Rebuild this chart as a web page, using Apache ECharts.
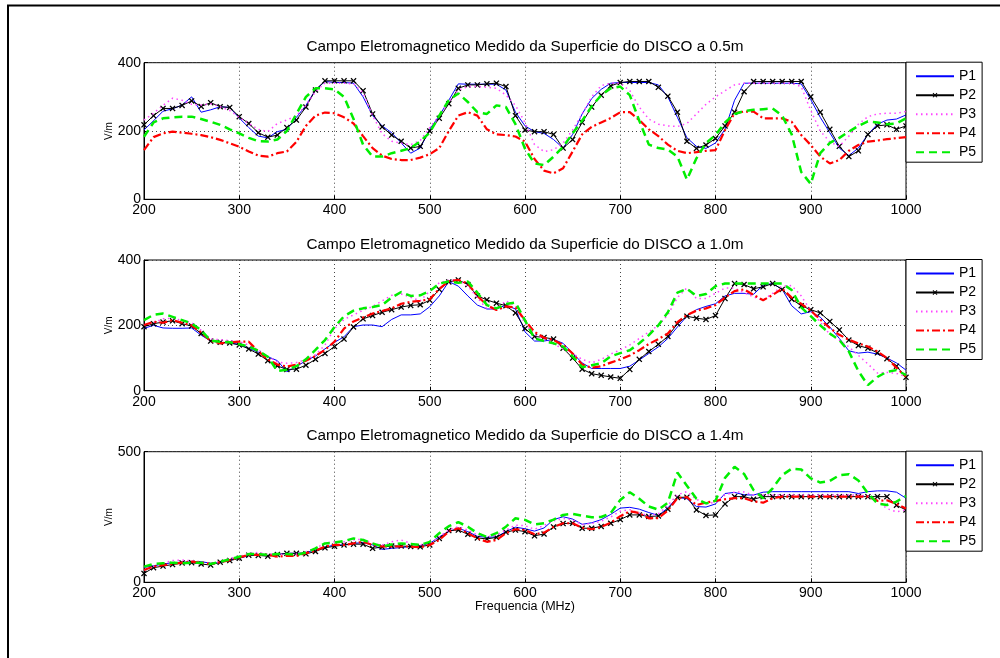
<!DOCTYPE html>
<html>
<head>
<meta charset="utf-8">
<script src="https://cdn.jsdelivr.net/npm/echarts@6/dist/echarts.min.js"></script>
<style>
  html, body { margin: 0; padding: 0; background: #fff; }
  #chart { width: 1000px; height: 658px; }
</style>
</head>
<body>
<div id="chart"></div>
<script>
// frequencias medidas, 200..1000 MHz de 10 em 10
const freq = []
for (let f = 200; f <= 1000; f += 10) freq.push(f)

const names = ['P1', 'P2', 'P3', 'P4', 'P5']
const titles = [
  'Campo Eletromagnetico Medido da Superficie do DISCO a 0.5m',
  'Campo Eletromagnetico Medido da Superficie do DISCO a 1.0m',
  'Campo Eletromagnetico Medido da Superficie do DISCO a 1.4m'
]
const yMax = [400, 400, 500]
const yStep = [200, 200, 500]

// 0.5m
const p1_05 = [203,230,258,265,276,300,255,262,271,269, 238,210,185,180,198,205,240,275,320,345,
  342,342,340,300,245,215,195,165,135,150, 205,245,290,338,337,337,337,337,320,255,
  215,198,193,175,150,190,250,295,322,340, 342,342,342,342,335,300,240,180,155,149,
  165,205,290,340,340,340,340,340,340,338, 292,240,195,150,128,150,190,220,232,235, 247]
const p2_05 = [218,245,266,266,275,288,272,283,271,269, 242,222,195,182,188,210,232,270,320,347,
  347,347,347,318,250,212,188,170,150,155, 200,237,280,325,335,335,338,340,330,245,
  203,198,198,190,150,175,225,270,305,332, 342,345,345,345,328,302,255,170,149,159,
  178,215,255,315,345,345,345,345,345,345, 300,255,205,155,125,142,190,215,218,205, 215]
const p3_05 = [232,252,275,296,290,278,276,280,271,260, 240,222,205,198,222,232,245,275,315,340,
  340,340,338,312,245,192,170,164,160,172, 210,245,285,320,330,330,328,325,305,275,
  225,160,140,145,165,203,250,300,333,340, 340,318,270,235,220,215,213,222,250,278,
  300,318,335,340,340,340,340,340,340,330, 260,200,168,155,185,220,242,250,252,252, 257]
const p4_05 = [144,182,193,198,195,192,188,182,174,164, 154,140,128,125,135,140,168,215,245,254,
  252,240,222,185,150,128,118,115,115,122, 132,150,200,245,255,245,205,190,188,184,
  169,118,84,76,91,140,190,212,225,238, 255,255,232,205,185,160,142,135,138,142,
  144,203,252,257,257,237,237,237,227,188, 159,125,105,115,142,159,169,172,176,179, 182]
const p5_05 = [183,225,237,240,242,242,235,227,218,205, 193,180,170,169,175,200,250,300,325,325,
  322,300,235,160,125,125,135,142,150,170, 195,245,290,310,285,255,250,275,270,220,
  148,105,100,125,154,193,230,272,305,325, 330,305,230,160,150,146,125,58,120,165,
  188,225,250,258,262,264,266,245,190,80, 45,135,165,180,198,215,228,225,220,222, 237]

// 1.0m
const p1_10 = [191,200,192,191,191,192,170,152,148,146, 142,130,118,104,92,58,74,92,106,128,
  148,165,196,201,201,196,218,232,232,235, 257,290,334,320,290,262,250,250,262,250,
  180,152,152,157,145,115,85,68,68,68, 68,75,94,114,134,160,195,228,248,258,
  266,290,298,298,295,323,328,310,260,235, 242,225,195,160,122,115,118,112,100,85, 63]
const p2_10 = [196,205,210,214,205,198,175,152,148,146, 140,128,112,92,76,65,66,78,96,114,
  135,158,195,220,230,240,248,256,261,263, 277,310,333,339,325,290,278,268,260,238,
  190,166,163,158,130,100,66,52,47,42, 38,65,96,120,142,166,205,228,222,218,
  230,282,328,325,312,318,328,310,280,260, 248,238,212,186,155,138,130,116,98,75, 41]
const p3_10 = [201,208,220,222,215,208,185,158,156,153, 150,140,125,105,88,84,86,95,110,140,
  190,218,232,246,258,275,292,296,286,275, 305,330,338,339,320,285,250,252,275,260,
  205,172,158,143,128,114,96,85,96,112, 125,140,160,180,200,232,285,315,282,282,
  298,314,314,300,287,277,298,320,322,290, 245,210,172,155,134,108,82,54,56,53, 43]
const p4_10 = [201,211,208,216,208,200,178,152,145,148, 150,150,120,96,80,74,80,92,106,125,
  150,190,212,224,236,244,252,266,272,275, 280,312,335,339,328,290,262,247,258,255,
  215,180,162,155,140,114,80,70,75,86, 96,108,124,143,158,175,210,232,245,252,
  262,285,305,310,293,277,293,312,285,266, 245,218,192,171,156,145,135,120,100,70, 43]
const p5_10 = [216,232,236,226,216,206,185,153,150,148, 142,136,122,104,60,64,75,96,125,155,
  195,228,245,252,256,262,285,302,290,292, 305,328,334,330,334,300,262,252,265,270,
  215,160,152,145,135,105,72,78,84,105, 115,124,145,170,200,240,300,312,290,296,
  320,328,328,328,328,328,328,328,308,255, 228,200,175,155,120,60,17,42,58,63, 48]

// 1.4m
const p1_14 = [57,63,70,75,77,78,79,73,75,85, 92,102,105,101,107,111,111,114,124,134,
  143,143,149,152,143,126,130,133,137,139, 149,174,194,207,194,176,172,174,194,211,
  205,196,208,240,251,242,222,228,240,260, 284,287,280,267,256,285,325,320,290,288,
  300,340,344,335,334,345,347,347,347,347, 347,347,347,347,347,340,347,350,350,345, 322]
const p2_14 = [34,56,62,68,74,75,70,66,77,83, 92,104,103,100,106,111,111,109,118,132,
  138,143,146,146,130,135,139,139,137,136, 143,168,198,200,184,170,166,172,192,200,
  194,178,185,212,225,226,207,207,214,226, 240,258,258,252,254,280,325,326,277,256,
  258,300,328,328,318,328,328,328,328,328, 328,328,328,328,328,328,328,328,328,295, 277]
const p3_14 = [47,60,73,83,85,83,79,73,79,92, 98,111,114,108,108,105,108,117,130,149,
  155,155,162,165,149,143,155,162,149,143, 149,174,200,213,200,181,174,181,200,219,
  217,203,218,235,244,239,221,225,234,250, 272,278,265,255,262,295,335,347,318,300,
  306,335,345,346,334,334,334,334,334,334, 334,334,334,334,334,334,330,312,282,270, 277]
const p4_14 = [47,60,66,70,75,79,75,70,77,85, 95,105,105,105,98,101,101,111,121,137,
  143,143,149,155,143,137,137,137,137,134, 143,162,194,207,188,168,155,162,188,203,
  200,184,190,212,226,226,209,203,212,228, 253,272,265,245,246,275,322,326,296,305,
  312,318,322,322,310,305,322,328,328,328, 328,328,328,328,328,328,328,312,314,300, 283]
const p5_14 = [60,70,73,75,73,75,75,70,79,88, 98,108,108,105,108,108,105,114,130,149,
  152,158,168,162,149,137,145,149,147,143, 155,188,215,230,213,188,174,188,213,245,
  239,222,226,240,258,262,255,249,250,265, 315,345,320,290,278,305,420,370,320,302,
  312,400,442,415,353,322,360,410,435,432, 398,382,388,410,414,390,341,302,296,309, 330]

const dataSets = [
  [p1_05, p2_05, p3_05, p4_05, p5_05],
  [p1_10, p2_10, p3_10, p4_10, p5_10],
  [p1_14, p2_14, p3_14, p4_14, p5_14]
]

const FONT = 'Liberation Sans, Arial, Helvetica, sans-serif'
const xMark = 'path://M0,1.5L1.5,0L5,3.5L8.5,0L10,1.5L6.5,5L10,8.5L8.5,10L5,6.5L1.5,10L0,8.5L3.5,5Z'

const styles = [
  { color: '#0000ff', width: 1, type: 'solid', symbol: 'none' },
  { color: '#000000', width: 1, type: 'solid', symbol: xMark },
  { color: '#ff44ff', width: 1.5, type: [1.5, 3.5], symbol: 'none' },
  { color: '#ff0000', width: 2.2, type: [8, 3, 2, 3], symbol: 'none' },
  { color: '#00ee00', width: 2.5, type: [8, 5], symbol: 'none' }
]

const gridTops = [62.7, 260, 451.7]
const gridHeights = [136.6, 130.7, 130.6]

const myChart = echarts.init(document.getElementById('chart'), null, { renderer: 'canvas' })

// legenda: sem o circulo padrao nas series sem marcador
const legendData = names.map(function (n, k) {
  if (styles[k].symbol === 'none') {
    return { name: n, itemStyle: { color: 'rgba(0,0,0,0)', borderWidth: 0, opacity: 0 } }
  }
  return { name: n }
})

const grid = []
const xAxis = []
const yAxis = []
const legend = []
const series = []
const graphic = [{
  type: 'polyline',
  shape: { points: [[8, 660], [8, 5.5], [1002, 5.5]] },
  style: { stroke: '#000', lineWidth: 2, fill: 'none' },
  silent: true
}]

for (let g = 0; g < 3; g++) {
  grid.push({
    left: 144, right: 94, top: gridTops[g], height: gridHeights[g],
    show: true, borderColor: '#000', borderWidth: 1, backgroundColor: '#fff'
  })
  xAxis.push({
    type: 'value', gridIndex: g, min: 200, max: 1000, interval: 100,
    axisLine: { show: true, onZero: false, lineStyle: { color: '#000', width: 1 } },
    axisTick: { show: true, inside: true, length: 4, lineStyle: { color: '#000' } },
    axisLabel: {
      color: '#000', fontSize: 14, fontFamily: FONT, margin: 4, showMinLabel: true, showMaxLabel: true,
      formatter: function (v) { return String(v) }
    },
    splitLine: { show: true, lineStyle: { color: '#444', type: [1, 3], width: 1 } }
  })
  yAxis.push({
    type: 'value', gridIndex: g, min: 0, max: yMax[g], interval: yStep[g],
    axisLine: { show: true, lineStyle: { color: '#000', width: 1 } },
    axisTick: { show: true, inside: true, length: 4, lineStyle: { color: '#000' } },
    axisLabel: {
      color: '#000', fontSize: 14, fontFamily: FONT, margin: 3, showMinLabel: true, showMaxLabel: true,
      formatter: function (v) { return String(v) }
    },
    splitLine: { show: true, lineStyle: { color: '#444', type: [1, 3], width: 1 } }
  })
  legend.push({
    data: legendData, orient: 'vertical', left: 906, top: gridTops[g] - 0.5,
    itemWidth: 38, itemHeight: 6, itemGap: 3,
    padding: [6, 6, 2, 9],
    backgroundColor: '#fff', borderColor: '#000', borderWidth: 1, borderRadius: 0,
    textStyle: { color: '#000', fontSize: 14, fontFamily: FONT, lineHeight: 16 },
    selectedMode: false
  })
  graphic.push({
    type: 'text', x: 525, y: gridTops[g] - 15.5,
    style: { text: titles[g], fill: '#000', font: '15.3px ' + FONT, textAlign: 'center', textVerticalAlign: 'middle' },
    silent: true
  })
  graphic.push({
    type: 'text', x: 109, y: gridTops[g] + gridHeights[g] / 2, rotation: Math.PI / 2,
    style: { text: 'V/m', fill: '#000', font: '10px ' + FONT, textAlign: 'center', textVerticalAlign: 'middle' },
    silent: true
  })

  dataSets[g].forEach(function (vals, k) {
    const s = styles[k]
    series.push({
      name: names[k],
      type: 'line',
      xAxisIndex: g,
      yAxisIndex: g,
      data: freq.map(function (f, i) { return [f, vals[i]] }),
      symbol: s.symbol,
      symbolSize: 6,
      showSymbol: s.symbol !== 'none',
      itemStyle: { color: s.color },
      lineStyle: { color: s.color, width: s.width, type: s.type },
      animation: false,
      silent: true,
      z: 2 + k
    })
  })
}

graphic.push({
  type: 'text', x: 525, y: 607,
  style: { text: 'Frequencia (MHz)', fill: '#000', font: '12.5px ' + FONT, textAlign: 'center', textVerticalAlign: 'middle' },
  silent: true
})

const option = {
  backgroundColor: '#fff',
  animation: false,
  grid: grid,
  xAxis: xAxis,
  yAxis: yAxis,
  legend: legend,
  series: series,
  graphic: graphic
}
option && myChart.setOption(option)
</script>
</body>
</html>
